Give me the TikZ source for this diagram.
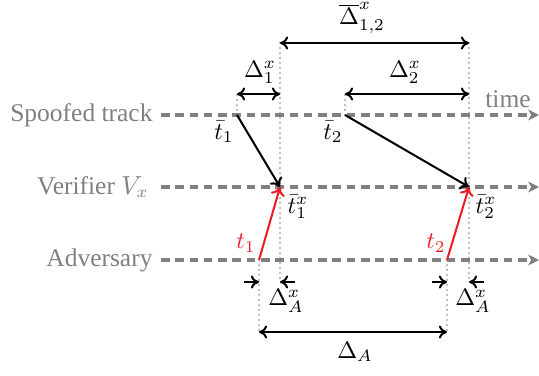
\documentclass[tikz,border=0pt]{standalone}
\usepackage{fontspec}
\setmainfont{Liberation Serif}
\usetikzlibrary{arrows.meta}
\definecolor{lgray}{RGB}{128,128,128}
\definecolor{ared}{RGB}{237,28,36}
\begin{document}
\begin{tikzpicture}[x=0.42pt,y=-0.42pt,
  track/.style={draw=lgray,line width=1.3pt,dash pattern=on 3.6pt off 2.4pt,-{Stealth[length=4.5pt,width=4.5pt,inset=1.2pt]}},
  guide/.style={draw=lgray,line width=0.7pt,line cap=round,dash pattern=on 0pt off 2.1pt},
  dim/.style={draw=black,line width=0.85pt,{To[length=3.4pt,width=5.5pt]}-{To[length=3.4pt,width=5.5pt]}},
  one/.style={draw=black,line width=0.85pt,-{To[length=3.4pt,width=5.5pt]}},
  msg/.style={draw=black,line width=0.85pt,-{To[length=3.6pt,width=6pt]}},
  amsg/.style={draw=ared,line width=0.85pt,-{To[length=3.6pt,width=6pt]}},
  txt/.style={font=\fontsize{10.7}{13}\selectfont},
  glabel/.style={txt,text=lgray,anchor=east,inner sep=0pt},
  lbl/.style={inner sep=0pt}]
\useasboundingbox (0,0) rectangle (539,375);
% track labels
\node[glabel] (ls) at (153,115) {Spoofed track};
\node[glabel] (lv) at (149,187) {Verifier $V_x$};
\node[glabel] (la) at (153,260) {Adversary};
% track ends
\coordinate (s0) at (161,115); \coordinate (s1) at (539,115);
\coordinate (v0) at (161,187); \coordinate (v1) at (539,187);
\coordinate (a0) at (161,260); \coordinate (a1) at (539,260);
% event points
\coordinate (sb1) at (237,115); \coordinate (sb2) at (345,115);
\coordinate (vb1) at (280,187); \coordinate (vb2) at (469,187);
\coordinate (ad1) at (259,260); \coordinate (ad2) at (447,260);
% guide ends
\coordinate (g1t) at (237,94); \coordinate (g2t) at (345,94);
\coordinate (g3t) at (280,43); \coordinate (g3b) at (280,283);
\coordinate (g4t) at (469,43); \coordinate (g4b) at (469,283);
\coordinate (g5b) at (259,332); \coordinate (g6b) at (447,332);
% guides
\draw[guide] (sb1) -- (g1t);
\draw[guide] (sb2) -- (g2t);
\draw[guide] (g3t) -- (g3b);
\draw[guide] (g4t) -- (g4b);
\draw[guide] (ad1) -- (g5b);
\draw[guide] (ad2) -- (g6b);
% tracks
\draw[track] (s0) -- (s1);
\draw[track] (v0) -- (v1);
\draw[track] (a0) -- (a1);
% messages
\draw[msg] (sb1) -- (vb1);
\draw[msg] (sb2) -- (vb2);
\draw[amsg] (ad1) -- (vb1);
\draw[amsg] (ad2) -- (vb2);
% dimension arrows
\coordinate (d1a) at (280,43); \coordinate (d1b) at (469,43);
\draw[dim] (d1a) -- (d1b);
\coordinate (d2a) at (237,94); \coordinate (d2b) at (280,94);
\draw[dim] (d2a) -- (d2b);
\coordinate (d3a) at (345,94); \coordinate (d3b) at (469,94);
\draw[dim] (d3a) -- (d3b);
\coordinate (d4a) at (259,332); \coordinate (d4b) at (447,332);
\draw[dim] (d4a) -- (d4b);
\coordinate (e1a) at (244,282); \coordinate (e1b) at (259,282);
\coordinate (e2a) at (295,282); \coordinate (e2b) at (280,282);
\coordinate (e3a) at (432,282); \coordinate (e3b) at (447,282);
\coordinate (e4a) at (484,282); \coordinate (e4b) at (469,282);
\draw[one] (e1a) -- (e1b);
\draw[one] (e2a) -- (e2b);
\draw[one] (e3a) -- (e3b);
\draw[one] (e4a) -- (e4b);
% labels
\node[lbl] (tD12) at (362,18) {$\overline{\Delta}^x_{1,2}$};
\node[lbl] (tD1) at (260,72) {$\Delta^x_1$};
\node[lbl] (tD2) at (405,72) {$\Delta^x_2$};
\node[lbl,txt,text=lgray] (ttime) at (508,99) {time};
\node[lbl] (tb1) at (224,132) {$\bar{t}_1$};
\node[lbl] (tb2) at (333,132) {$\bar{t}_2$};
\node[lbl] (tx1) at (298,207) {$\bar{t}^x_1$};
\node[lbl] (tx2) at (486,207) {$\bar{t}^x_2$};
\node[lbl,text=ared] (tr1) at (246,243) {$t_1$};
\node[lbl,text=ared] (tr2) at (436,243) {$t_2$};
\node[lbl] (tA1) at (286,301) {$\Delta^x_A$};
\node[lbl] (tA2) at (473,301) {$\Delta^x_A$};
\node[lbl] (tA) at (355,352) {$\Delta_A$};
\end{tikzpicture}
\end{document}
